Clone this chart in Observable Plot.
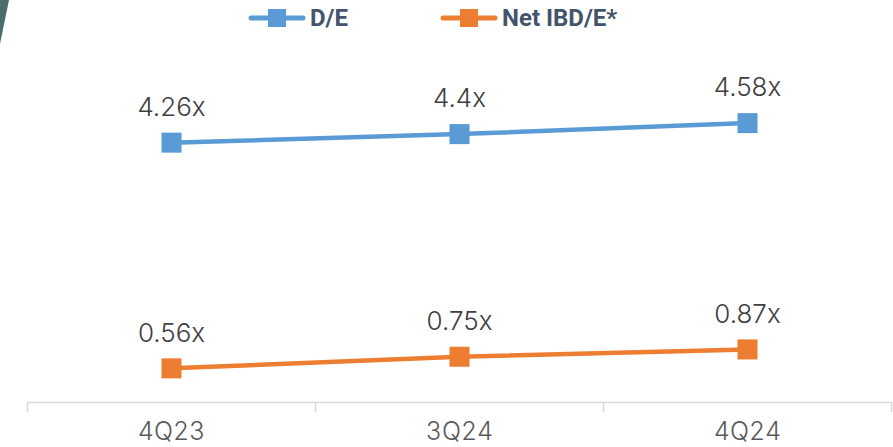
<!DOCTYPE html>
<html>
<head>
<meta charset="utf-8">
<script src="https://cdn.jsdelivr.net/npm/d3@7"></script>
<script src="https://cdn.jsdelivr.net/npm/@observablehq/plot@0.6"></script>
<style>
  html, body { margin: 0; padding: 0; background: #fff; width: 893px; height: 447px; overflow: hidden; }
  #wrap { position: relative; width: 893px; height: 447px; }
  #corner { position: absolute; left: 0; top: 0; width: 9px; height: 44px; background: #4a6e6c; clip-path: polygon(0 0, 100% 0, 0 100%); }
  #legend { position: relative; height: 40px; font-family: Roboto, "Liberation Sans", sans-serif; font-weight: 700; font-size: 24px; color: #44546A; }
  .item { position: absolute; top: 4px; display: flex; align-items: center; height: 28px; }
  .item svg { margin-right: 4px; }
  svg text { font-family: Inter, Lato, sans-serif; }
</style>
</head>
<body>
<div id="wrap">
  <div id="corner"></div>
  <div id="legend"></div>
  <div id="chart"></div>
</div>
<script>
const categories = ["4Q23", "3Q24", "4Q24"];
const seriesNames = ["D/E", "Net IBD/E*"];
const deValues = [4.26, 4.4, 4.58];
const netValues = [0.56, 0.75, 0.87];
const valueLabels = [["4.26x", "4.4x", "4.58x"], ["0.56x", "0.75x", "0.87x"]];
const colors = ["#5B9BD5", "#ED7D31"];

const rows = [];
[deValues, netValues].forEach((vals, s) => {
  vals.forEach((v, i) => rows.push({series: seriesNames[s], i, value: v, label: valueLabels[s][i]}));
});
const idx = categories.map((_, i) => i);
const bounds = [...idx.map(i => i - 0.5), categories.length - 0.5];

// legend
const legend = document.getElementById("legend");
const legendLeft = [248, 440];
seriesNames.forEach((name, s) => {
  const it = document.createElement("div");
  it.className = "item";
  it.style.left = legendLeft[s] + "px";
  it.innerHTML = `<svg width="58" height="20"><line x1="3" x2="55" y1="10" y2="10" stroke="${colors[s]}" stroke-width="5" stroke-linecap="round"/><rect x="20" y="1" width="18" height="18" fill="${colors[s]}"/></svg><span>${name}</span>`;
  legend.appendChild(it);
});

const chart = Plot.plot({
  width: 893,
  height: 407,
  marginLeft: 27,
  marginRight: 2,
  marginTop: 57,
  marginBottom: 45,
  x: {type: "linear", domain: [-0.5, categories.length - 0.5], axis: null},
  y: {domain: [0, 5], axis: null},
  color: {domain: seriesNames, range: colors},
  marks: [
    Plot.ruleY([0], {stroke: "#D9D9D9", strokeWidth: 1.5}),
    Plot.axisX({ticks: bounds, tickFormat: () => "", tickSize: 10, stroke: "#D9D9D9", strokeWidth: 1.5, label: null}),
    Plot.axisX({ticks: idx, tickFormat: i => categories[i], tickSize: 0, tickPadding: 20, fontSize: 25, fill: "#595959", fontWeight: 300, label: null}),
    Plot.line(rows, {x: "i", y: "value", z: "series", stroke: "series", strokeWidth: 4.5}),
    Plot.dot(rows, {x: "i", y: "value", fill: "series", symbol: "square", r: 11.3}),
    Plot.text(rows, {x: "i", y: "value", text: "label", dy: -35, fontSize: 26, fill: "#404040", fontWeight: 300})
  ]
});
document.getElementById("chart").appendChild(chart);
</script>
</body>
</html>
